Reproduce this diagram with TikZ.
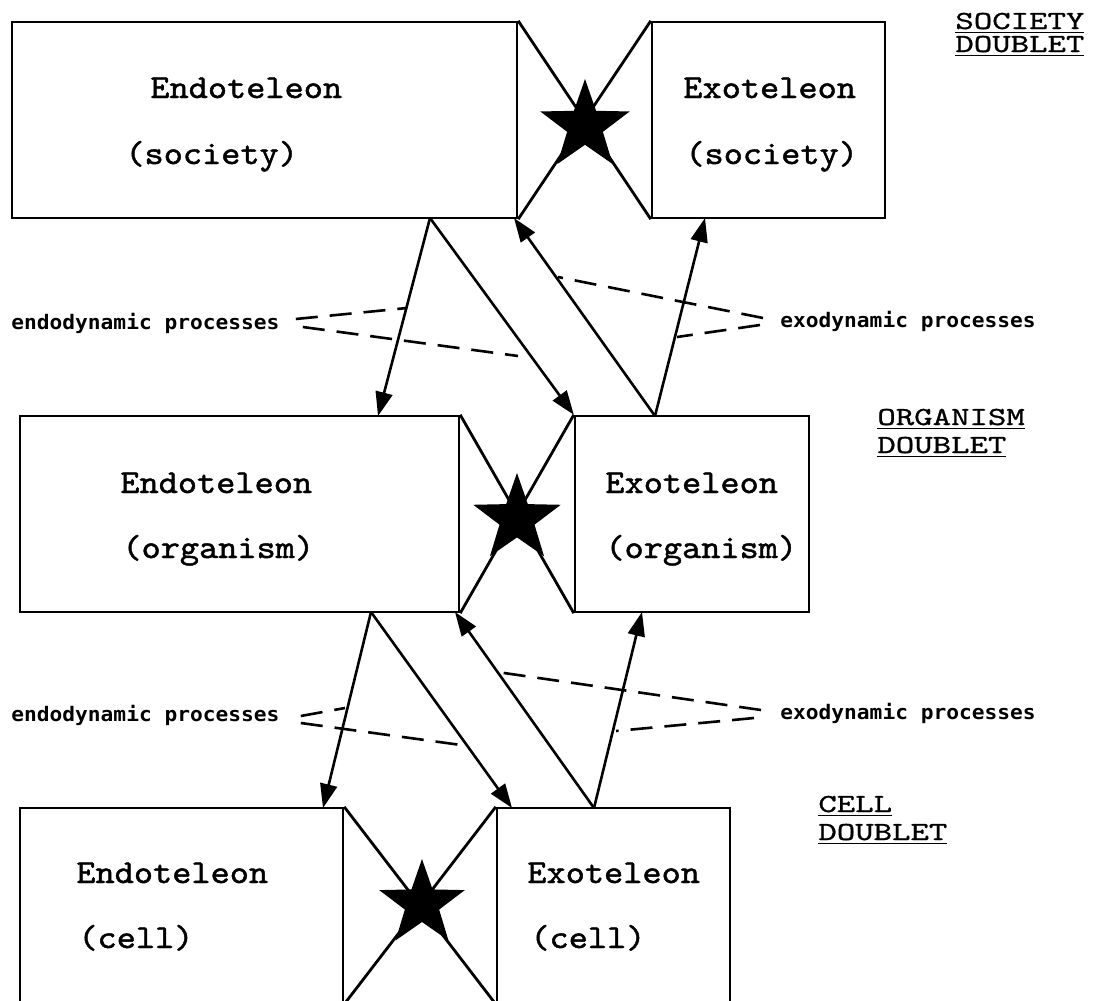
\documentclass[tikz,border=0pt]{standalone}
\usepackage{fontspec}
\usetikzlibrary{arrows.meta,fit,shapes.geometric}
\newfontfamily\boxfont{lmmono10-regular.otf}[FakeStretch=1.1,FakeBold=1.4]
\newfontfamily\dblfont{lmmono10-regular.otf}[FakeStretch=1.35,FakeBold=1]
\newfontfamily\lblfont{DejaVu Sans Mono}[FakeStretch=1.06]
\newcommand\ulinetxt[1]{\setbox0\hbox{#1}\rlap{\copy0}\rule[-2.2pt]{\wd0}{0.9pt}}
\begin{document}
\begin{tikzpicture}[x=0.5pt,y=-0.5pt,
  box/.style={draw, line width=1.2pt, inner sep=0pt},
  tie/.style={line width=1.4pt},
  conn/.style={line width=1.3pt, -{Triangle[length=12pt,width=8.5pt]}},
  dsh/.style={line width=1.3pt, dash pattern=on 11pt off 6pt},
  txt/.style={inner sep=0pt, anchor=base west, font=\boxfont\fontsize{16.6}{18}\selectfont},
  dbl/.style={inner sep=0pt, anchor=base west, font=\dblfont\fontsize{13}{15}\selectfont},
  lbl/.style={inner sep=0pt, anchor=west, font=\lblfont\bfseries\fontsize{10}{12}\selectfont},
  starmark/.style={star, star points=5, star point ratio=2.5, fill=black, draw=none, inner sep=0pt}]

\useasboundingbox (0,0) rectangle (1098,1001);
\fill[white] (0,0) rectangle (1098,1001);
\clip (0,0) rectangle (1098,1001);

% boxes
\node[box, fit={(12,22) (517,218)}] (endoS) {};
\node[box, fit={(652,22) (885,218)}] (exoS) {};
\node[box, fit={(20,416) (459,612)}] (endoO) {};
\node[box, fit={(575,416) (809,612)}] (exoO) {};
\node[box, fit={(20,808) (343,1003)}] (endoC) {};
\node[box, fit={(497,808) (730,1003)}] (exoC) {};

% bow ties
\draw[tie] (endoS.north east) -- (exoS.south west);
\draw[tie] (exoS.north west) -- (endoS.south east);
\draw[tie] (endoO.north east) -- (exoO.south west);
\draw[tie] (exoO.north west) -- (endoO.south east);
\draw[tie] (endoC.north east) -- (exoC.south west);
\draw[tie] (exoC.north west) -- (endoC.south east);

% stars
\node[starmark, minimum size=47pt] (starS) at (585,126) {};
\node[starmark, minimum size=46pt] (starO) at (517,519) {};
\node[starmark, minimum size=45pt] (starC) at (422,904) {};

% box texts
\node[txt] (tES1) at (150,98) {Endoteleon};
\node[txt] (tES2) at (125,164) {(society)};
\node[txt] (tXS1) at (683,98) {Exoteleon};
\node[txt] (tXS2) at (685,164) {(society)};
\node[txt] (tEO1) at (120,493) {Endoteleon};
\node[txt] (tEO2) at (122,558) {(organism)};
\node[txt] (tXO1) at (605,493) {Exoteleon};
\node[txt] (tXO2) at (605,558) {(organism)};
\node[txt] (tEC1) at (76,883) {Endoteleon};
\node[txt] (tEC2) at (78,948) {(cell)};
\node[txt] (tXC1) at (527,883) {Exoteleon};
\node[txt] (tXC2) at (530,948) {(cell)};

% doublet labels
\node[dbl] (dS1) at (955,29) {\ulinetxt{SOCIETY}};
\node[dbl] (dS2) at (955,52) {\ulinetxt{DOUBLET}};
\node[dbl] (dO1) at (877,425) {\ulinetxt{ORGANISM}};
\node[dbl] (dO2) at (877,453) {\ulinetxt{DOUBLET}};
\node[dbl] (dC1) at (818,812) {\ulinetxt{CELL}};
\node[dbl] (dC2) at (818,840) {\ulinetxt{DOUBLET}};

% connector points
\coordinate (sOut) at (430,218);
\coordinate (oEndoIn) at (378,416);
\coordinate (oExoOut) at (655,416);
\coordinate (sEndoIn) at (514,218);
\coordinate (sExoIn) at (705,218);
\coordinate (oOut) at (371,612);
\coordinate (cEndoIn) at (323,808);
\coordinate (cExoIn) at (512,808);
\coordinate (cOut) at (594,808);
\coordinate (oEndoIn2) at (455,612);
\coordinate (oExoIn2) at (642,612);

\draw[conn] (sOut) -- (oEndoIn);
\draw[conn] (sOut) -- (exoO.north west);
\draw[conn] (oExoOut) -- (sEndoIn);
\draw[conn] (oExoOut) -- (sExoIn);
\draw[conn] (oOut) -- (cEndoIn);
\draw[conn] (oOut) -- (cExoIn);
\draw[conn] (cOut) -- (oEndoIn2);
\draw[conn] (cOut) -- (oExoIn2);

% process labels
\node[lbl] (enL1) at (11,323) {endodynamic processes};
\node[lbl] (exL1) at (780,321) {exodynamic processes};
\node[lbl] (enL2) at (11,715) {endodynamic processes};
\node[lbl] (exL2) at (780,713) {exodynamic processes};

\coordinate (e1a) at (407,308);
\coordinate (e1b) at (518,356);
\coordinate (x1a) at (558,277);
\coordinate (x1b) at (677,337);
\coordinate (e2a) at (345,708);
\coordinate (e2b) at (461,745);
\coordinate (x2a) at (497,672);
\coordinate (x2b) at (616,731);

\draw[dsh] ([shift={(16,-4)}]enL1.east) -- (e1a);
\draw[dsh] ([shift={(23,4)}]enL1.east) -- (e1b);
\draw[dsh] ([shift={(-17,-3)}]exL1.west) -- (x1a);
\draw[dsh] ([shift={(-20,4)}]exL1.west) -- (x1b);
\draw[dsh] ([shift={(21,1)}]enL2.east) -- (e2a);
\draw[dsh] ([shift={(21,8)}]enL2.east) -- (e2b);
\draw[dsh] ([shift={(-19,-3)}]exL2.west) -- (x2a);
\draw[dsh] ([shift={(-26,5)}]exL2.west) -- (x2b);
\end{tikzpicture}
\end{document}
